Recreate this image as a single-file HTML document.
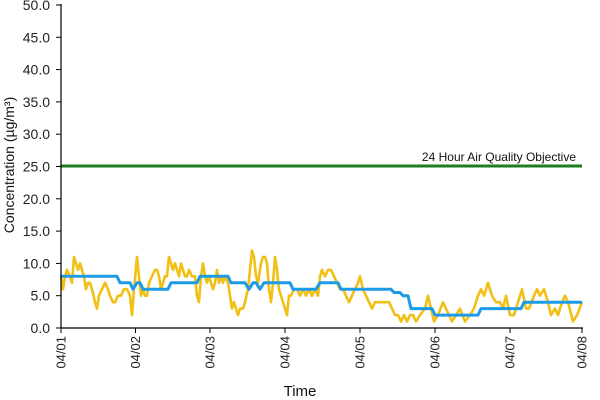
<!DOCTYPE html>
<html><head><meta charset="utf-8"><style>
body{margin:0;background:#fff}
svg{display:block;font-family:"Liberation Sans",Arial,sans-serif}
</style></head><body>
<svg id="s" width="600" height="400" xmlns="http://www.w3.org/2000/svg">
<g font-size="14" fill="#222" text-anchor="end" id="yl"></g>
<text transform="translate(14,165) rotate(-90)" text-anchor="middle" font-size="14" fill="#111">Concentration (µg/m³)</text>
<text x="300" y="396" text-anchor="middle" font-size="15" fill="#111">Time</text>
<line x1="61" y1="166" x2="582" y2="166" stroke="#1e7d1e" stroke-width="3"/>
<text x="576" y="161" text-anchor="end" font-size="12" fill="#111">24 Hour Air Quality Objective</text>
<polyline id="yel" fill="none" stroke="#f2c014" stroke-width="2.6" stroke-linejoin="round"/>
<polyline id="blu" fill="none" stroke="#1e9be6" stroke-width="3" stroke-linejoin="round"/>
<line x1="61" y1="4" x2="61" y2="328" stroke="#000" stroke-width="1.2"/>
<line x1="61" y1="328" x2="583" y2="328" stroke="#000" stroke-width="1.2"/>
<g id="xt" font-size="13" fill="#222"></g>
</svg>
<script>
var Y=function(v){return 328-6.46*v};
var ns="http://www.w3.org/2000/svg",yl=document.getElementById('yl'),xt=document.getElementById('xt');
for(var v=0;v<=50;v+=5){var t=document.createElementNS(ns,'text');t.setAttribute('x',50);t.setAttribute('y',Y(v)+5);t.textContent=v.toFixed(1);yl.appendChild(t);
var l=document.createElementNS(ns,'line');l.setAttribute('x1',56);l.setAttribute('x2',61);l.setAttribute('y1',Y(v));l.setAttribute('y2',Y(v));l.setAttribute('stroke','#000');yl.appendChild(l);}
var xs=[61,135.5,210,285,360,435,510,582];
xs.forEach(function(x,i){var l=document.createElementNS(ns,'line');l.setAttribute('x1',x);l.setAttribute('x2',x);l.setAttribute('y1',328);l.setAttribute('y2',333);l.setAttribute('stroke','#000');xt.appendChild(l);
var t=document.createElementNS(ns,'text');t.setAttribute('transform','translate('+(x+4.5)+',336) rotate(-90)');t.setAttribute('text-anchor','end');t.textContent='04/0'+(i+1);xt.appendChild(t);});
var yd=[61,8,63,6,65,8,67,9,70,8,72,7,74,11,76,10,78,9,80,10,82,9,84,8,86,6,88,7,90,7,92,6,95,4,97,3,99,5,102,6,105,7,108,6,110,5,113,4,115,4,118,5,121,5,124,6,127,6,130,5,132,2,134,6,137,11,139,8,141,5,143,6,145,5,147,5,149,7,152,8,155,9,157,9,159,8,161,6,163,7,165,8,167,8,169,11,171,10,173,9,175,10,177,9,179,8,181,10,183,9,185,8,187,8,189,9,192,8,195,8,197,5,199,4,201,8,203,10,205,8,207,7,209,8,211,7,213,6,215,7,217,9,219,7,221,8,223,7,225,8,228,7,230,5,232,3,234,4,236,3,238,2,240,3,243,3,245,4,248,6,250,9,252,12,254,11,256,8,258,7,261,10,263,11,265,11,267,10,269,6,271,4,273,7,275,11,277,9,279,6,281,5,283,4,285,3,287,2,289,5,291,5,294,6,297,6,300,5,303,6,306,5,309,6,312,5,315,6,318,5,320,8,322,9,325,8,328,9,331,9,334,8,337,7,340,6,343,6,346,5,349,4,352,5,355,6,358,7,360,8,363,6,366,5,369,4,372,3,375,4,378,4,381,4,385,4,389,4,392,3,395,2,398,2,401,1,404,2,407,1,410,2,413,2,416,1,420,2,425,3,428,5,431,3,434,1,438,2,443,4,446,3,452,1,456,2,460,3,465,1,470,2,474,3,478,5,481,6,484,5,488,7,492,5,496,4,500,4,503,3,506,5,510,2,514,2,518,4,522,6,526,3,529,3,534,5,537,6,540,5,544,6,548,4,551,2,555,3,558,2,562,4,565,5,568,4,573,1,577,2,582,4];
var bd=[61,8,117,8,120,7,130,7,133,6,137,7,140,7,143,6,168,6,171,7,197,7,200,8,228,8,231,7,245,7,249,6,253,7,256,7,260,6,264,7,290,7,293,6,316,6,320,7,338,7,341,6,391,6,394,5.5,400,5.5,403,5,408,5,411,3,432,3,435,2,478,2,481,3,521,3,524,4,582,4];
function pts(a){var s=[];for(var i=0;i<a.length;i+=2)s.push(a[i]+','+Y(a[i+1]).toFixed(1));return s.join(' ');}
document.getElementById('yel').setAttribute('points',pts(yd));
document.getElementById('blu').setAttribute('points',pts(bd));
</script>
</body></html>
